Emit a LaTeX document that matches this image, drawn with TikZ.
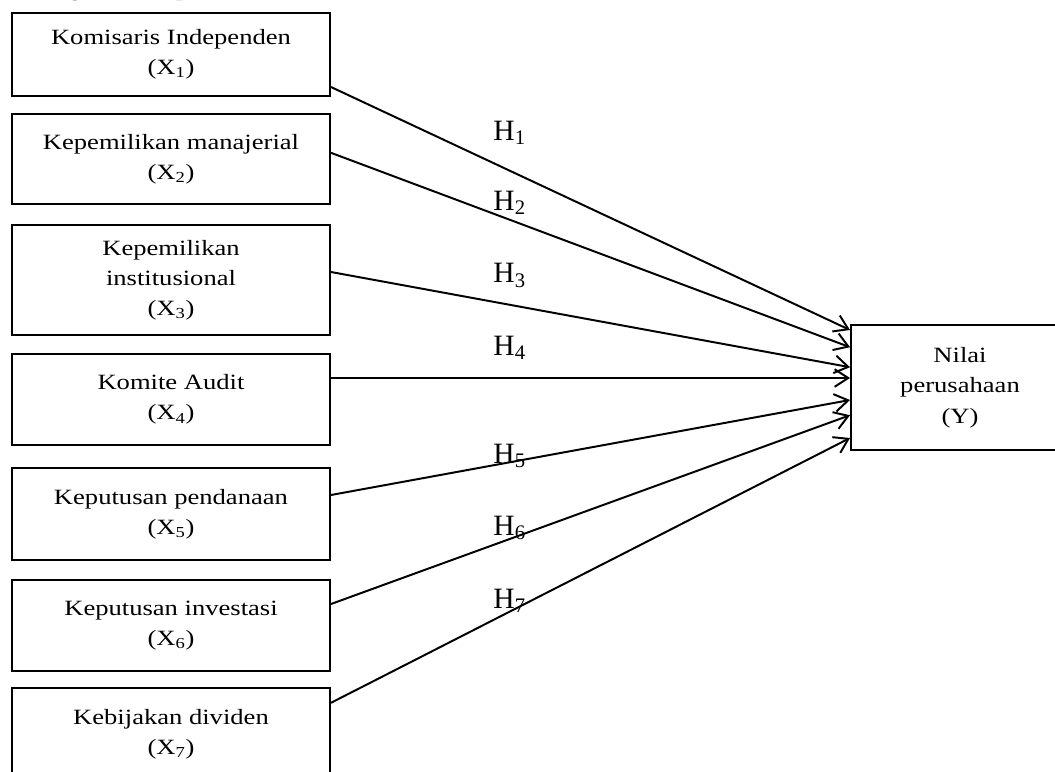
\documentclass[tikz,border=0pt]{standalone}
\usepackage{fontspec}
\setmainfont[FakeStretch=1.22]{Liberation Serif}
\newfontfamily\hypfont{Liberation Serif}
\usetikzlibrary{positioning,arrows.meta}

\tikzset{
  var/.style={draw, line width=1.4pt, minimum width=7.95cm, inner sep=0pt, align=center, font=\fontsize{15.5}{21.5}\selectfont},
  hyp/.style={font=\hypfont\fontsize{21}{24}\selectfont, inner sep=0pt, anchor=base west},
  arr/.style={line width=1.4pt, -{Straight Barb[length=3.4mm,width=4.4mm]}}
}

\begin{document}
\begin{tikzpicture}
\useasboundingbox (0,0) rectangle (26.375,-19.275);
% title (cut at the top)
\node[font=\hypfont\bfseries\fontsize{17}{20}\selectfont, anchor=base west, inner sep=0pt] (title) at (0.1,0.11) {Kerangka Konseptual};
% variabel X
\node[var, minimum height=2.07cm] (x1) at (4.275,-1.355) {Komisaris Independen\\(X\textsubscript{1})};
\node[var, minimum height=2.26cm] (x2) at (4.275,-3.98)  {Kepemilikan manajerial\\(X\textsubscript{2})};
\node[var, minimum height=2.75cm] (x3) at (4.275,-7.0)   {Kepemilikan\\institusional\\(X\textsubscript{3})};
\node[var, minimum height=2.26cm] (x4) at (4.275,-9.99)  {Komite Audit\\(X\textsubscript{4})};
\node[var, minimum height=2.3cm]  (x5) at (4.275,-12.85) {Keputusan pendanaan\\(X\textsubscript{5})};
\node[var, minimum height=2.28cm] (x6) at (4.275,-15.64) {Keputusan investasi\\(X\textsubscript{6})};
\node[var, minimum height=2.3cm]  (x7) at (4.275,-18.35) {Kebijakan dividen\\(X\textsubscript{7})};
% variabel Y
\node[var, minimum width=5.45cm, minimum height=3.125cm] (y) at (24.0,-9.69) {Nilai\\perusahaan\\(Y)};
% hipotesis
\draw[arr] ([yshift=-0.82cm]x1.east) -- ([yshift=1.44cm]y.west);
\draw[arr] ([yshift=0.16cm]x2.east)  -- ([yshift=1.01cm]y.west);
\draw[arr] ([yshift=0.2cm]x3.east)   -- ([yshift=0.51cm]y.west);
\draw[arr] ([yshift=0.54cm]x4.east)  -- ([yshift=0.24cm]y.west);
\draw[arr] ([yshift=0.475cm]x5.east) -- ([yshift=-0.31cm]y.west);
\draw[arr] ([yshift=0.54cm]x6.east)  -- ([yshift=-0.69cm]y.west);
\draw[arr] ([yshift=0.78cm]x7.east)  -- ([yshift=-1.26cm]y.west);
\node[hyp] (h1) at (12.33,-3.5)   {H\textsubscript{1}};
\node[hyp] (h2) at (12.33,-5.25)  {H\textsubscript{2}};
\node[hyp] (h3) at (12.33,-7.07)  {H\textsubscript{3}};
\node[hyp] (h4) at (12.33,-8.875) {H\textsubscript{4}};
\node[hyp] (h5) at (12.33,-11.58) {H\textsubscript{5}};
\node[hyp] (h6) at (12.33,-13.375){H\textsubscript{6}};
\node[hyp] (h7) at (12.33,-15.2)  {H\textsubscript{7}};
\end{tikzpicture}
\end{document}
